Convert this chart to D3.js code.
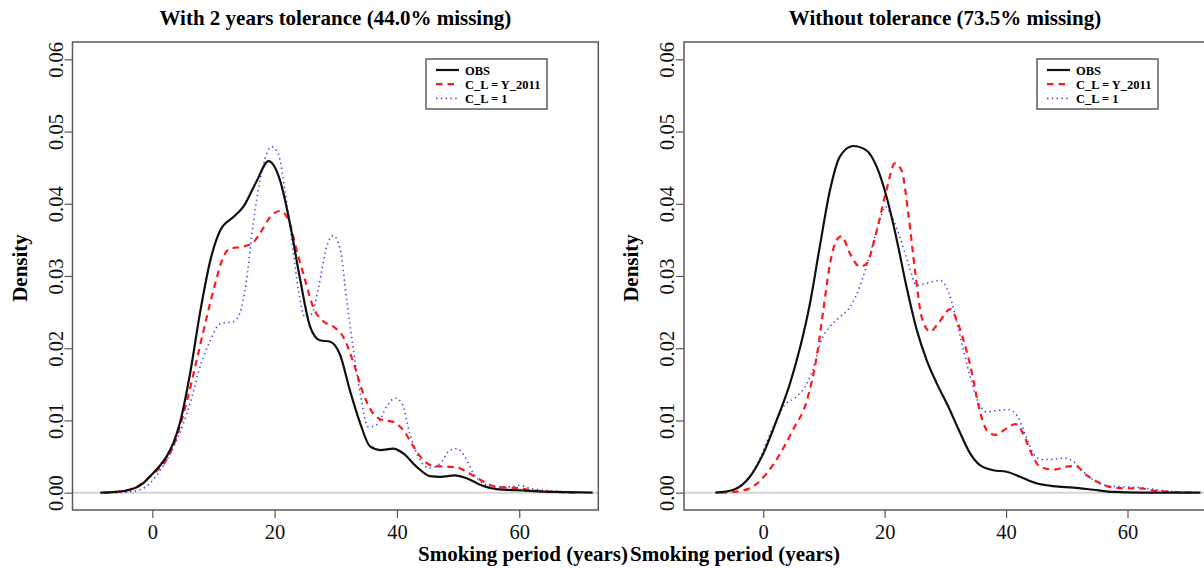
<!DOCTYPE html>
<html>
<head>
<meta charset="utf-8">
<script src="https://cdn.jsdelivr.net/npm/d3@7"></script>
<style>
  html, body { margin: 0; padding: 0; background: #fff; }
  svg { display: block; font-family: "Liberation Serif", "Times New Roman", serif; }
</style>
</head>
<body>
<svg id="chart" width="1204" height="569"></svg>
<script>
// Kernel density estimates of smoking period (years), [years, density]
const tol2Obs = [[-8.5,0],[-6,0.0001],[-3.6,0.0004],[-1.5,0.0013],[0,0.0026],[1.2,0.0037],[2.4,0.0051],[3.5,0.007],[4.5,0.0096],[6.2,0.0166],[7.8,0.0249],[9.5,0.0322],[11.1,0.0363],[13.3,0.0382],[14.9,0.0396],[17.1,0.0432],[19.0,0.0459],[20.9,0.0432],[22.5,0.0373],[24.2,0.0294],[25.8,0.023],[27.4,0.0211],[29.1,0.0209],[30.7,0.0191],[32.3,0.0142],[34.0,0.0096],[35.6,0.0064],[37.3,0.0059],[39.4,0.0061],[41.1,0.0054],[43.2,0.0036],[45.4,0.0023],[47.1,0.0022],[49.5,0.0024],[51.4,0.002],[53.6,0.0011],[56.3,0.0005],[60.7,0.0003],[66.1,0.0001],[72,0]];
const tol2Y2011 = [[-8,0],[-5,0.0002],[-2,0.0011],[0,0.0025],[2.4,0.0047],[3.5,0.0066],[5.6,0.0125],[7.3,0.0185],[8.9,0.0243],[10.3,0.029],[11.6,0.0326],[12.7,0.0338],[14.3,0.034],[16.3,0.0345],[17.6,0.0359],[19.3,0.0382],[20.9,0.039],[22.3,0.0377],[23.6,0.0336],[25.0,0.0294],[26.3,0.0257],[28.0,0.0237],[29.6,0.023],[31.2,0.0216],[32.9,0.018],[34.5,0.0137],[36.1,0.011],[37.5,0.0101],[39.4,0.0098],[41.0,0.0087],[42.7,0.0064],[44.3,0.0045],[46.0,0.0037],[48.1,0.0036],[49.8,0.0035],[51.4,0.0029],[53.6,0.0018],[55.8,0.0009],[57.9,0.0007],[60.1,0.0006],[62.3,0.0003],[66,0.0001],[70,0]];
const tol2One = [[-6,0],[-3,0.0002],[-0.5,0.0012],[1.3,0.0031],[4.0,0.0073],[6.2,0.0124],[7.8,0.0174],[9.5,0.0211],[11.1,0.0234],[13.3,0.0237],[14.3,0.0248],[15.4,0.0294],[16.5,0.0373],[17.6,0.0432],[18.7,0.0469],[19.5,0.0479],[20.6,0.0469],[21.7,0.0418],[22.8,0.035],[23.9,0.028],[25.0,0.0243],[26.1,0.0248],[27.2,0.0285],[28.5,0.034],[29.6,0.0356],[30.7,0.0338],[31.8,0.0266],[32.9,0.0197],[34.0,0.0137],[35.3,0.0091],[36.7,0.0094],[38.3,0.0119],[39.7,0.0131],[40.8,0.0124],[42.1,0.0082],[43.8,0.0045],[45.4,0.0034],[47.1,0.0041],[48.7,0.0059],[49.8,0.0061],[51.1,0.005],[52.5,0.0027],[54.1,0.0013],[56.3,0.0008],[58.5,0.0008],[60.1,0.001],[61.8,0.0006],[64.5,0.0003],[68.8,0.0001],[72,0]];

const exactObs = [[-7.9,0],[-4.9,0.0004],[-2.2,0.0022],[0,0.0054],[2.2,0.01],[4.4,0.0151],[6.1,0.0202],[7.7,0.0262],[9.3,0.034],[11.0,0.0419],[12.6,0.0465],[14.8,0.048],[17.0,0.0474],[18.7,0.0451],[20.3,0.041],[22.0,0.035],[23.6,0.0285],[25.3,0.0225],[26.9,0.0184],[28.6,0.0151],[30.5,0.0119],[32.2,0.0087],[34.1,0.0054],[35.7,0.0038],[37.9,0.0031],[40.1,0.0029],[42.3,0.0022],[45.0,0.0013],[47.8,0.0009],[51.1,0.0007],[54.4,0.0004],[57.7,0.0001],[62,0],[72,0]];
const exactY2011 = [[-7,0],[-4.9,0.0001],[-2.2,0.0006],[0.6,0.0027],[2.8,0.0054],[4.9,0.0087],[7.2,0.0128],[8.8,0.0188],[9.9,0.0253],[11.0,0.0317],[12.1,0.035],[12.9,0.0355],[14.3,0.0331],[15.9,0.0313],[17.0,0.0317],[18.7,0.0363],[20.3,0.0419],[21.7,0.0456],[22.8,0.0446],[23.9,0.0386],[25.0,0.0308],[26.1,0.0243],[27.5,0.0223],[28.8,0.0234],[30.8,0.0254],[32.1,0.0234],[33.0,0.0211],[34.4,0.0165],[35.5,0.0119],[36.8,0.0087],[38.2,0.008],[40.1,0.0089],[41.5,0.0095],[42.8,0.0082],[44.2,0.0054],[45.6,0.0036],[47.8,0.0032],[50.0,0.0036],[51.4,0.0037],[53.3,0.0024],[55.5,0.0013],[57.7,0.0007],[59.9,0.0006],[62.1,0.0006],[64.3,0.0003],[67.6,0.0001],[71,0]];
const exactOne = [[-7.5,0],[-4.9,0.0004],[-2.2,0.0023],[0,0.0058],[0.6,0.0071],[2.2,0.01],[3.3,0.0119],[5.5,0.0133],[7.2,0.0151],[8.5,0.0179],[9.4,0.0207],[11.0,0.023],[12.6,0.0243],[14.3,0.0257],[15.9,0.0285],[17.6,0.0331],[19.2,0.0377],[20.1,0.0396],[21.2,0.0382],[22.5,0.0354],[23.9,0.0317],[25.3,0.0287],[26.9,0.029],[29.1,0.0294],[30.6,0.0276],[32.2,0.0225],[34.1,0.016],[35.5,0.0124],[36.8,0.0112],[38.7,0.0114],[40.4,0.0115],[41.8,0.0107],[43.1,0.0082],[44.5,0.0054],[45.9,0.0046],[47.8,0.0046],[49.7,0.0048],[51.1,0.0043],[52.7,0.0029],[54.9,0.0015],[57.1,0.0009],[59.9,0.0008],[62.1,0.0007],[64.8,0.0004],[68.6,0.0001],[72,0]];

const panelTitles = ["With 2 years tolerance (44.0% missing)", "Without tolerance (73.5% missing)"];
const seriesNames = ["OBS", "C_L = Y_2011", "C_L = 1"];
const xTicks = [0, 20, 40, 60];
const yTicks = [0, 0.01, 0.02, 0.03, 0.04, 0.05, 0.06];
const xLabel = "Smoking period (years)";
const yLabel = "Density";

const xDomain = [-13.05, 72.93];
const yDomain = [-0.0024, 0.0624];

const styles = [
  { color: "#111", width: 2.2, dash: null },
  { color: "#ff1a1a", width: 2.2, dash: "6.5,5" },
  { color: "#4646f0", width: 1.6, dash: "1.4,3.4" }
];

const panels = [
  { left: 72.5, right: 598.3, series: [tol2Obs, tol2Y2011, tol2One], legendX: 426, xLabelX: 523 },
  { left: 684, right: 1206, series: [exactObs, exactY2011, exactOne], legendX: 1037, xLabelX: 735 }
];
const plotTop = 42, plotBottom = 510;
const axisColor = "#5a5a5a";

const svg = d3.select("#chart");

panels.forEach((p, i) => {
  const x = d3.scaleLinear().domain(xDomain).range([p.left, p.right]);
  const y = d3.scaleLinear().domain(yDomain).range([plotBottom, plotTop]);
  const g = svg.append("g");

  // zero reference line
  g.append("line")
    .attr("x1", p.left).attr("x2", p.right)
    .attr("y1", y(0)).attr("y2", y(0))
    .attr("stroke", "#d4d4d4").attr("stroke-width", 2);

  // density curves
  const line = d3.line().x(d => x(d[0])).y(d => y(d[1])).curve(d3.curveMonotoneX);
  [2, 1, 0].forEach(k => {
    const s = styles[k];
    g.append("path")
      .datum(p.series[k])
      .attr("d", line)
      .attr("fill", "none")
      .attr("stroke", s.color)
      .attr("stroke-width", s.width)
      .attr("stroke-dasharray", s.dash)
      .attr("stroke-linejoin", "round");
  });

  // frame
  g.append("rect")
    .attr("x", p.left).attr("y", plotTop)
    .attr("width", p.right - p.left).attr("height", plotBottom - plotTop)
    .attr("fill", "none").attr("stroke", axisColor).attr("stroke-width", 1.5);

  // x axis
  const xAxis = g.append("g").attr("transform", `translate(0,${plotBottom})`)
    .call(d3.axisBottom(x).tickValues(xTicks).tickSize(8).tickPadding(6).tickFormat(d3.format("d")));
  xAxis.select(".domain").remove();
  xAxis.selectAll("line").attr("stroke", axisColor).attr("stroke-width", 1.2);
  xAxis.selectAll("text").attr("font-size", 20.5).attr("fill", "#111")
    .attr("font-family", "Liberation Serif");

  // y axis with rotated labels
  const yAxis = g.append("g").attr("transform", `translate(${p.left},0)`)
    .call(d3.axisLeft(y).tickValues(yTicks).tickSize(8).tickFormat(d3.format(".2f")));
  yAxis.select(".domain").remove();
  yAxis.selectAll("line").attr("stroke", axisColor).attr("stroke-width", 1.2);
  yAxis.selectAll("text")
    .attr("font-size", 20.5).attr("fill", "#111").attr("font-family", "Liberation Serif")
    .attr("x", null).attr("dy", null)
    .attr("text-anchor", "middle")
    .attr("transform", "translate(-10,0) rotate(-90)");

  // title
  svg.append("text")
    .attr("x", (p.left + p.right) / 2).attr("y", 25)
    .attr("text-anchor", "middle").attr("font-weight", "bold").attr("font-size", 21)
    .text(panelTitles[i]);

  // axis titles
  svg.append("text")
    .attr("x", p.xLabelX).attr("y", 561)
    .attr("text-anchor", "middle").attr("font-weight", "bold").attr("font-size", 21)
    .text(xLabel);
  svg.append("text")
    .attr("transform", `translate(${p.left - 46},${(plotTop + plotBottom) / 2 - 8}) rotate(-90)`)
    .attr("text-anchor", "middle").attr("font-weight", "bold").attr("font-size", 21)
    .text(yLabel);

  // legend
  const lg = svg.append("g").attr("transform", `translate(${p.legendX},59)`);
  lg.append("rect").attr("width", 121).attr("height", 50)
    .attr("fill", "#fff").attr("stroke", "#444").attr("stroke-width", 1.3);
  seriesNames.forEach((name, k) => {
    const yy = 11 + k * 14.2;
    lg.append("line")
      .attr("x1", 10).attr("x2", 33).attr("y1", yy).attr("y2", yy)
      .attr("stroke", styles[k].color).attr("stroke-width", styles[k].width)
      .attr("stroke-dasharray", styles[k].dash);
    lg.append("text")
      .attr("x", 39).attr("y", yy + 4.5)
      .attr("font-weight", "bold").attr("font-size", 12.5)
      .text(name);
  });
});
</script>
</body>
</html>
